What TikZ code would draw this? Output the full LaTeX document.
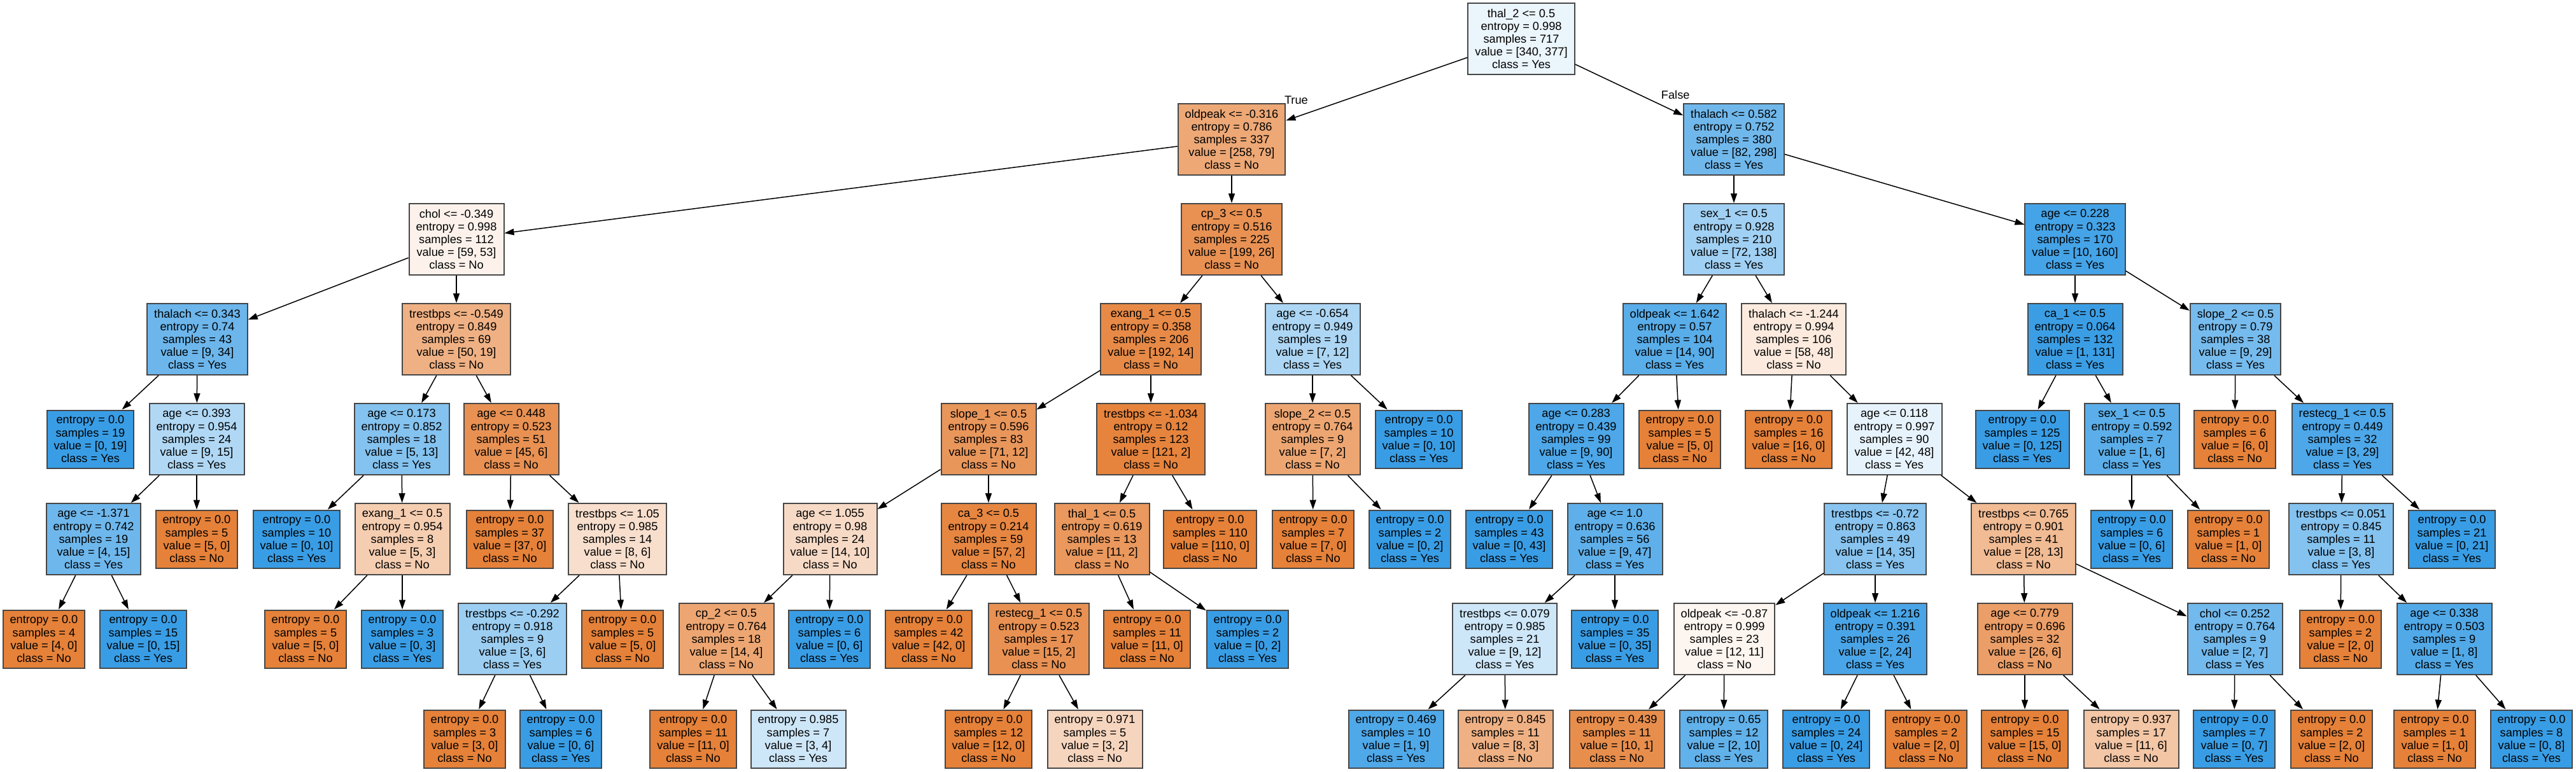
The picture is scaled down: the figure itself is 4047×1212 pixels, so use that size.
\documentclass[tikz,border=0pt]{standalone}
\usepackage{fontspec}
\setmainfont{Liberation Sans}
\usepackage{xcolor}
\usepackage{tikz}
\usetikzlibrary{arrows.meta}
\definecolor{cno}{HTML}{E58139}
\definecolor{cyes}{HTML}{399DE5}
\newcommand{\splittxt}[5]{#1\\entropy = #2\\samples = #3\\value = [#4]\\class = #5}
\newcommand{\leaftxt}[4]{entropy = #1\\samples = #2\\value = [#3]\\class = #4}

\begin{document}
\begin{tikzpicture}[
  x=0.5pt, y=-0.5pt,
  font=\fontsize{9.1}{10.1}\selectfont,
  box/.style={draw=black!72,line width=1pt,align=center,inner xsep=5.5pt,inner ysep=0pt},
  split/.style={box,minimum height=56pt},
  leaf/.style={box,minimum height=45.5pt},
  fno/.style={fill=cno!#1},
  fyes/.style={fill=cyes!#1},
  link/.style={-{Triangle[length=7.5pt,width=5pt]},line width=0.75pt},
  lbl/.style={inner sep=0pt}
]
\fill[white] (0,0) rectangle (4047,1212);
\useasboundingbox (0,0) rectangle (4047,1212);
% root
\node[split,fyes=10] (n0) at (2390,61) {\splittxt{thal\_2 <= 0.5}{0.998}{717}{340, 377}{Yes}};
% left branch
\node[split,fno=69] (n1) at (1935,219) {\splittxt{oldpeak <= -0.316}{0.786}{337}{258, 79}{No}};
\node[split,fno=10] (n2) at (717,376) {\splittxt{chol <= -0.349}{0.998}{112}{59, 53}{No}};
\node[split,fyes=74] (n3) at (310,533) {\splittxt{thalach <= 0.343}{0.74}{43}{9, 34}{Yes}};
\node[leaf,fyes=100] (n4) at (142,690) {\leaftxt{0.0}{19}{0, 19}{Yes}};
\node[split,fyes=40] (n5) at (309,690) {\splittxt{age <= 0.393}{0.954}{24}{9, 15}{Yes}};
\node[split,fyes=73] (n6) at (147,847) {\splittxt{age <= -1.371}{0.742}{19}{4, 15}{Yes}};
\node[leaf,fno=100] (n7) at (69,1004) {\leaftxt{0.0}{4}{4, 0}{No}};
\node[leaf,fyes=100] (n8) at (225,1004) {\leaftxt{0.0}{15}{0, 15}{Yes}};
\node[leaf,fno=100] (n9) at (309,847) {\leaftxt{0.0}{5}{5, 0}{No}};
\node[split,fno=62] (n10) at (717,533) {\splittxt{trestbps <= -0.549}{0.849}{69}{50, 19}{No}};
\node[split,fyes=62] (n11) at (631,690) {\splittxt{age <= 0.173}{0.852}{18}{5, 13}{Yes}};
\node[leaf,fyes=100] (n12) at (466,847) {\leaftxt{0.0}{10}{0, 10}{Yes}};
\node[split,fno=40] (n13) at (632,847) {\splittxt{exang\_1 <= 0.5}{0.954}{8}{5, 3}{No}};
\node[leaf,fno=100] (n14) at (480,1004) {\leaftxt{0.0}{5}{5, 0}{No}};
\node[leaf,fyes=100] (n15) at (632,1004) {\leaftxt{0.0}{3}{0, 3}{Yes}};
\node[split,fno=87] (n16) at (803,690) {\splittxt{age <= 0.448}{0.523}{51}{45, 6}{No}};
\node[leaf,fno=100] (n17) at (801,847) {\leaftxt{0.0}{37}{37, 0}{No}};
\node[split,fno=25] (n18) at (970,847) {\splittxt{trestbps <= 1.05}{0.985}{14}{8, 6}{No}};
\node[split,fyes=50] (n19) at (805,1004) {\splittxt{trestbps <= -0.292}{0.918}{9}{3, 6}{Yes}};
\node[leaf,fno=100] (n20) at (730,1161) {\leaftxt{0.0}{3}{3, 0}{No}};
\node[leaf,fyes=100] (n21) at (881,1161) {\leaftxt{0.0}{6}{0, 6}{Yes}};
\node[leaf,fno=100] (n22) at (978,1004) {\leaftxt{0.0}{5}{5, 0}{No}};
\node[split,fno=87] (n23) at (1935,376) {\splittxt{cp\_3 <= 0.5}{0.516}{225}{199, 26}{No}};
\node[split,fno=93] (n24) at (1808,533) {\splittxt{exang\_1 <= 0.5}{0.358}{206}{192, 14}{No}};
\node[split,fno=83] (n25) at (1553,690) {\splittxt{slope\_1 <= 0.5}{0.596}{83}{71, 12}{No}};
\node[split,fno=29] (n26) at (1304,847) {\splittxt{age <= 1.055}{0.98}{24}{14, 10}{No}};
\node[split,fno=71] (n27) at (1141,1004) {\splittxt{cp\_2 <= 0.5}{0.764}{18}{14, 4}{No}};
\node[leaf,fno=100] (n28) at (1089,1161) {\leaftxt{0.0}{11}{11, 0}{No}};
\node[leaf,fyes=25] (n29) at (1254,1161) {\leaftxt{0.985}{7}{3, 4}{Yes}};
\node[leaf,fyes=100] (n30) at (1303,1004) {\leaftxt{0.0}{6}{0, 6}{Yes}};
\node[split,fno=96] (n31) at (1553,847) {\splittxt{ca\_3 <= 0.5}{0.214}{59}{57, 2}{No}};
\node[leaf,fno=100] (n32) at (1459,1004) {\leaftxt{0.0}{42}{42, 0}{No}};
\node[split,fno=87] (n33) at (1632,1004) {\splittxt{restecg\_1 <= 0.5}{0.523}{17}{15, 2}{No}};
\node[leaf,fno=100] (n34) at (1553,1161) {\leaftxt{0.0}{12}{12, 0}{No}};
\node[leaf,fno=33] (n35) at (1720,1161) {\leaftxt{0.971}{5}{3, 2}{No}};
\node[split,fno=98] (n36) at (1808,690) {\splittxt{trestbps <= -1.034}{0.12}{123}{121, 2}{No}};
\node[split,fno=82] (n37) at (1731,847) {\splittxt{thal\_1 <= 0.5}{0.619}{13}{11, 2}{No}};
\node[leaf,fno=100] (n38) at (1802,1004) {\leaftxt{0.0}{11}{11, 0}{No}};
\node[leaf,fyes=100] (n39) at (1960,1004) {\leaftxt{0.0}{2}{0, 2}{Yes}};
\node[leaf,fno=100] (n40) at (1901,847) {\leaftxt{0.0}{110}{110, 0}{No}};
\node[split,fyes=42] (n41) at (2062,533) {\splittxt{age <= -0.654}{0.949}{19}{7, 12}{Yes}};
\node[split,fno=71] (n42) at (2062,690) {\splittxt{slope\_2 <= 0.5}{0.764}{9}{7, 2}{No}};
\node[leaf,fno=100] (n43) at (2063,847) {\leaftxt{0.0}{7}{7, 0}{No}};
\node[leaf,fyes=100] (n44) at (2215,847) {\leaftxt{0.0}{2}{0, 2}{Yes}};
\node[leaf,fyes=100] (n45) at (2229,690) {\leaftxt{0.0}{10}{0, 10}{Yes}};
% right branch
\node[split,fyes=72] (n46) at (2724,219) {\splittxt{thalach <= 0.582}{0.752}{380}{82, 298}{Yes}};
\node[split,fyes=48] (n47) at (2724,376) {\splittxt{sex\_1 <= 0.5}{0.928}{210}{72, 138}{Yes}};
\node[split,fyes=84] (n48) at (2631,533) {\splittxt{oldpeak <= 1.642}{0.57}{104}{14, 90}{Yes}};
\node[split,fyes=90] (n49) at (2476,690) {\splittxt{age <= 0.283}{0.439}{99}{9, 90}{Yes}};
\node[leaf,fyes=100] (n50) at (2371,847) {\leaftxt{0.0}{43}{0, 43}{Yes}};
\node[split,fyes=81] (n51) at (2537,847) {\splittxt{age <= 1.0}{0.636}{56}{9, 47}{Yes}};
\node[split,fyes=25] (n52) at (2364,1004) {\splittxt{trestbps <= 0.079}{0.985}{21}{9, 12}{Yes}};
\node[leaf,fyes=89] (n53) at (2193,1161) {\leaftxt{0.469}{10}{1, 9}{Yes}};
\node[leaf,fno=62] (n54) at (2365,1161) {\leaftxt{0.845}{11}{8, 3}{No}};
\node[leaf,fyes=100] (n55) at (2537,1004) {\leaftxt{0.0}{35}{0, 35}{Yes}};
\node[leaf,fno=100] (n56) at (2639,690) {\leaftxt{0.0}{5}{5, 0}{No}};
\node[split,fno=17] (n57) at (2818,533) {\splittxt{thalach <= -1.244}{0.994}{106}{58, 48}{No}};
\node[leaf,fno=100] (n58) at (2810,690) {\leaftxt{0.0}{16}{16, 0}{No}};
\node[split,fyes=12] (n59) at (2976,690) {\splittxt{age <= 0.118}{0.997}{90}{42, 48}{Yes}};
\node[split,fyes=60] (n60) at (2946,847) {\splittxt{trestbps <= -0.72}{0.863}{49}{14, 35}{Yes}};
\node[split,fno=8] (n61) at (2709,1004) {\splittxt{oldpeak <= -0.87}{0.999}{23}{12, 11}{No}};
\node[leaf,fno=90] (n62) at (2540,1161) {\leaftxt{0.439}{11}{10, 1}{No}};
\node[leaf,fyes=80] (n63) at (2708,1161) {\leaftxt{0.65}{12}{2, 10}{Yes}};
\node[split,fyes=92] (n64) at (2946,1004) {\splittxt{oldpeak <= 1.216}{0.391}{26}{2, 24}{Yes}};
\node[leaf,fyes=100] (n65) at (2869,1161) {\leaftxt{0.0}{24}{0, 24}{Yes}};
\node[leaf,fno=100] (n66) at (3026,1161) {\leaftxt{0.0}{2}{2, 0}{No}};
\node[split,fno=54] (n67) at (3179,847) {\splittxt{trestbps <= 0.765}{0.901}{41}{28, 13}{No}};
\node[split,fno=77] (n68) at (3181,1004) {\splittxt{age <= 0.779}{0.696}{32}{26, 6}{No}};
\node[leaf,fno=100] (n69) at (3181,1161) {\leaftxt{0.0}{15}{15, 0}{No}};
\node[leaf,fno=45] (n70) at (3348,1161) {\leaftxt{0.937}{17}{11, 6}{No}};
\node[split,fyes=71] (n71) at (3511,1004) {\splittxt{chol <= 0.252}{0.764}{9}{2, 7}{Yes}};
\node[leaf,fyes=100] (n72) at (3510,1161) {\leaftxt{0.0}{7}{0, 7}{Yes}};
\node[leaf,fno=100] (n73) at (3663,1161) {\leaftxt{0.0}{2}{2, 0}{No}};
\node[split,fyes=94] (n74) at (3260,376) {\splittxt{age <= 0.228}{0.323}{170}{10, 160}{Yes}};
\node[split,fyes=99] (n75) at (3260,533) {\splittxt{ca\_1 <= 0.5}{0.064}{132}{1, 131}{Yes}};
\node[leaf,fyes=100] (n76) at (3177,690) {\leaftxt{0.0}{125}{0, 125}{Yes}};
\node[split,fyes=83] (n77) at (3349,690) {\splittxt{sex\_1 <= 0.5}{0.592}{7}{1, 6}{Yes}};
\node[leaf,fyes=100] (n78) at (3349,847) {\leaftxt{0.0}{6}{0, 6}{Yes}};
\node[leaf,fno=100] (n79) at (3501,847) {\leaftxt{0.0}{1}{1, 0}{No}};
\node[split,fyes=69] (n80) at (3512,533) {\splittxt{slope\_2 <= 0.5}{0.79}{38}{9, 29}{Yes}};
\node[leaf,fno=100] (n81) at (3511,690) {\leaftxt{0.0}{6}{6, 0}{No}};
\node[split,fyes=90] (n82) at (3680,690) {\splittxt{restecg\_1 <= 0.5}{0.449}{32}{3, 29}{Yes}};
\node[split,fyes=62] (n83) at (3678,847) {\splittxt{trestbps <= 0.051}{0.845}{11}{3, 8}{Yes}};
\node[leaf,fno=100] (n84) at (3677,1004) {\leaftxt{0.0}{2}{2, 0}{No}};
\node[split,fyes=88] (n85) at (3840,1004) {\splittxt{age <= 0.338}{0.503}{9}{1, 8}{Yes}};
\node[leaf,fno=100] (n86) at (3825,1161) {\leaftxt{0.0}{1}{1, 0}{No}};
\node[leaf,fyes=100] (n87) at (3977,1161) {\leaftxt{0.0}{8}{0, 8}{Yes}};
\node[leaf,fyes=100] (n88) at (3852,847) {\leaftxt{0.0}{21}{0, 21}{Yes}};

% edges
\draw[link] (n0) -- node[lbl,pos=1,anchor=south,xshift=8pt,yshift=12.5pt] {True} (n1);
\draw[link] (n0) -- node[lbl,pos=1,anchor=south,xshift=-6pt,yshift=12.5pt] {False} (n46);
\foreach \a/\b in {1/2,1/23,2/3,2/10,3/4,3/5,5/6,5/9,6/7,6/8,10/11,10/16,11/12,11/13,
  13/14,13/15,16/17,16/18,18/19,18/22,19/20,19/21,23/24,23/41,24/25,24/36,25/26,25/31,
  26/27,26/30,27/28,27/29,31/32,31/33,33/34,33/35,36/37,36/40,37/38,37/39,41/42,41/45,
  42/43,42/44,46/47,46/74,47/48,47/57,48/49,48/56,49/50,49/51,51/52,51/55,52/53,52/54,
  57/58,57/59,59/60,59/67,60/61,60/64,61/62,61/63,64/65,64/66,67/68,67/71,68/69,68/70,
  71/72,71/73,74/75,74/80,75/76,75/77,77/78,77/79,80/81,80/82,82/83,82/88,83/84,83/85,
  85/86,85/87}
  \draw[link] (n\a) -- (n\b);
\end{tikzpicture}
\end{document}
